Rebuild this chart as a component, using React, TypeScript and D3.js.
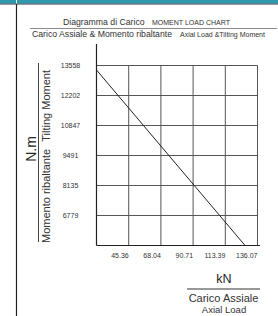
import * as d3 from 'd3'
import { useEffect, useRef } from 'react'

const xTicks = [45.36, 68.04, 90.71, 113.39, 136.07]
const yTicks = [6779, 8135, 9491, 10847, 12202, 13558]
const loadKN = [22.68, 127.3]
const momentNm = [13355, 5423]

const WIDTH = 278
const HEIGHT = 316
const FONT = 'Liberation Sans, Arial, sans-serif'

const drawChart = (node: SVGSVGElement) => {
  const svg = d3.select(node)
  svg.selectAll('*').remove()

  const x = d3.scaleLinear().domain([22.68, 136.07]).range([96.5, 257.5])
  const y = d3.scaleLinear().domain([5423, 13558]).range([245.5, 65.5])

  // header band + left frame
  svg.append('rect').attr('x', 0).attr('y', 0).attr('width', WIDTH).attr('height', 3.5).attr('fill', '#2e98ad')
  svg.append('line').attr('x1', 0).attr('x2', WIDTH).attr('y1', 4).attr('y2', 4).attr('stroke', '#1d3b42').attr('stroke-width', 1)
  svg.append('line').attr('x1', 16.5).attr('x2', 16.5).attr('y1', 0).attr('y2', 3.5).attr('stroke', '#e8f4f6').attr('stroke-width', 1)
  svg.append('line').attr('x1', 16.5).attr('x2', 16.5).attr('y1', 4).attr('y2', HEIGHT).attr('stroke', '#222').attr('stroke-width', 1.2)

  // titles
  const t1 = svg.append('text').attr('x', 63).attr('y', 25).attr('font-family', FONT).attr('fill', '#333')
  t1.append('tspan').attr('font-size', 8.7).text('Diagramma di Carico')
  t1.append('tspan').attr('x', 152).attr('font-size', 7).text('MOMENT LOAD CHART')
  svg.append('line').attr('x1', 30).attr('x2', 277).attr('y1', 28.5).attr('y2', 28.5).attr('stroke', '#8a8a8a').attr('stroke-width', 1.2)
  const t2 = svg.append('text').attr('x', 32).attr('y', 36.5).attr('font-family', FONT).attr('fill', '#333')
  t2.append('tspan').attr('font-size', 8.7).text('Carico Assiale & Momento ribaltante')
  t2.append('tspan').attr('x', 180).attr('font-size', 7).text('Axial Load &Tilting Moment')

  // grid
  const grid = svg.append('g').attr('stroke', '#555').attr('stroke-width', 1)
  grid.selectAll('line.h')
    .data(yTicks)
    .join('line')
    .attr('class', 'h')
    .attr('x1', x(22.68)).attr('x2', x(136.07))
    .attr('y1', d => y(d)).attr('y2', d => y(d))
  grid.selectAll('line.v')
    .data(xTicks)
    .join('line')
    .attr('class', 'v')
    .attr('x1', d => x(d)).attr('x2', d => x(d))
    .attr('y1', y(13558)).attr('y2', y(5423))

  // axes
  svg.append('line').attr('x1', x(22.68)).attr('x2', x(22.68)).attr('y1', 44).attr('y2', y(5423)).attr('stroke', '#222').attr('stroke-width', 1.2)
  svg.append('line').attr('x1', x(22.68)).attr('x2', 260).attr('y1', y(5423)).attr('y2', y(5423)).attr('stroke', '#222').attr('stroke-width', 1.2)

  // tick labels
  svg.append('g')
    .selectAll('text')
    .data(yTicks)
    .join('text')
    .attr('x', 70.5)
    .attr('y', d => y(d) + 2.5)
    .attr('text-anchor', 'middle')
    .attr('font-family', FONT)
    .attr('font-size', 7)
    .attr('fill', '#333')
    .text(d => d)
  svg.append('g')
    .selectAll('text')
    .data(xTicks)
    .join('text')
    .attr('x', d => x(d))
    .attr('y', 258)
    .attr('text-anchor', 'end')
    .attr('font-family', FONT)
    .attr('font-size', 7)
    .attr('fill', '#333')
    .text(d => d.toFixed(2))

  // load line
  const pts = loadKN.map((v, i) => [v, momentNm[i]] as [number, number])
  const line = d3.line<[number, number]>().x(d => x(d[0])).y(d => y(d[1]))
  svg.append('path').datum(pts).attr('d', line).attr('fill', 'none').attr('stroke', '#222').attr('stroke-width', 1)

  // y axis title
  svg.append('text')
    .attr('transform', 'translate(36,149) rotate(-90)')
    .attr('text-anchor', 'middle')
    .attr('font-family', FONT).attr('font-size', 14).attr('fill', '#222')
    .text('N.m')
  svg.append('line').attr('x1', 38.5).attr('x2', 38.5).attr('y1', 63).attr('y2', 242).attr('stroke', '#444').attr('stroke-width', 1)
  svg.append('text')
    .attr('transform', 'translate(49.5,243) rotate(-90)')
    .attr('font-family', FONT).attr('font-size', 11).attr('fill', '#333')
    .text('Momento ribaltante')
  svg.append('text')
    .attr('transform', 'translate(49.5,70) rotate(-90)')
    .attr('text-anchor', 'end')
    .attr('font-family', FONT).attr('font-size', 11).attr('fill', '#333')
    .text('Tilting Moment')

  // x axis title
  svg.append('text').attr('x', 224).attr('y', 282.7).attr('text-anchor', 'middle')
    .attr('font-family', FONT).attr('font-size', 12.5).attr('fill', '#222').text('kN')
  svg.append('line').attr('x1', 187).attr('x2', 260).attr('y1', 289).attr('y2', 289).attr('stroke', '#333').attr('stroke-width', 1)
  svg.append('text').attr('x', 223.5).attr('y', 302).attr('text-anchor', 'middle')
    .attr('font-family', FONT).attr('font-size', 11).attr('fill', '#333').text('Carico Assiale')
  svg.append('text').attr('x', 224).attr('y', 312.7).attr('text-anchor', 'middle')
    .attr('font-family', FONT).attr('font-size', 9.5).attr('fill', '#333').text('Axial Load')
}

export default function App() {
  const ref = useRef<SVGSVGElement>(null)

  useEffect(() => {
    if (ref.current) drawChart(ref.current)
  }, [])

  return (
    <svg
      ref={ref}
      width={WIDTH}
      height={HEIGHT}
      style={{ position: 'absolute', left: 0, top: 0, background: '#fff' }}
    />
  )
}
